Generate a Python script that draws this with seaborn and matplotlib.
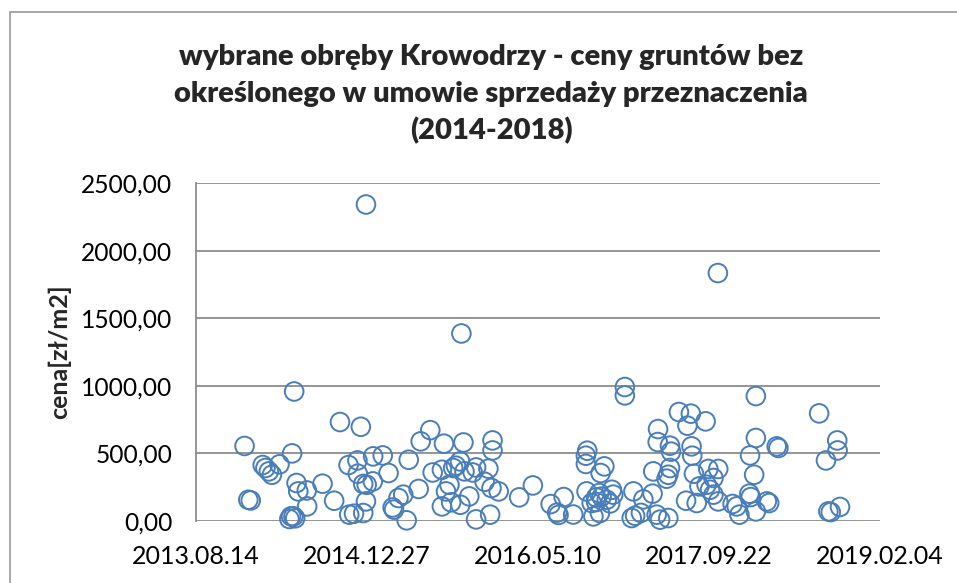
import matplotlib
matplotlib.use("Agg")
import matplotlib.pyplot as plt
import matplotlib.dates as mdates
import matplotlib.patches as mpatches
from matplotlib.ticker import FuncFormatter, FixedLocator
import seaborn as sns
import pandas as pd
import numpy as np

# ---- data: transaction date (Excel serial day numbers) and price [zł/m2] ----
sale_serial = [
    41642, 41653, 41660, 41695, 41703, 41713, 41722, 41744, 41773, 41778,
    41785, 41790, 41781, 41787, 41794, 41799, 41824, 41825, 41870, 41904,
    41921, 41946, 41948, 41962, 41972, 41973, 41982, 41989, 41989, 41997,
    41999, 41997, 42017, 42018, 42046, 42063, 42079, 42075, 42092, 42106,
    42116, 42122, 42151, 42157, 42185, 42192, 42219, 42219, 42225, 42231,
    42241, 42246, 42252, 42260, 42272, 42273, 42276, 42282, 42285, 42299,
    42309, 42319, 42319, 42344, 42355, 42360, 42364, 42367, 42367, 42385,
    42445, 42485, 42537, 42556, 42560, 42575, 42640, 42640, 42644, 42642,
    42657, 42662, 42679, 42681, 42683, 42694, 42701, 42716, 42720, 42670,
    42754, 42754, 42774, 42779, 42784, 42801, 42808, 42835, 42837, 42847,
    42851, 42850, 42857, 42876, 42881, 42881, 42886, 42886, 42889, 42912,
    42933, 42937, 42947, 42949, 42951, 42956, 42964, 42972, 42990, 42993,
    42998, 43003, 43013, 43013, 43026, 43027, 43027, 43069, 43081, 43089,
    43118, 43122, 43120, 43132, 43137, 43137, 43137, 43169, 43176, 43198,
    43203, 43322, 43342, 43375, 43376, 43349, 43356, 43383,
    42603, 42670, 42686, 42711,
]
price = [
    555, 157, 152, 414, 392, 367, 342, 419, 15, 35,
    34, 20, 500, 958, 281, 219, 226, 108, 276, 150,
    732, 414, 47, 54, 448, 350, 697, 274, 59, 145,
    268, 2341, 293, 478, 485, 355, 84, 100, 170, 195,
    5, 453, 237, 589, 672, 359, 379, 108, 572, 219,
    268, 138, 392, 409, 441, 120, 1387, 581, 367, 182,
    359, 396, 12, 290, 387, 47, 244, 596, 522, 219,
    175, 263, 125, 62, 45, 177, 422, 483, 520, 219,
    133, 34, 207, 59, 355, 404, 157, 231, 195, 175,
    991, 929, 22, 219, 39, 60, 160, 202, 367, 47,
    680, 584, 10, 313, 342, 22, 392, 557, 513, 806,
    150, 705, 794, 552, 483, 350, 133, 256, 737, 268,
    385, 231, 318, 195, 1834, 385, 145, 126, 108, 47,
    202, 177, 485, 342, 924, 614, 71, 145, 133, 552,
    540, 796, 448, 596, 522, 71, 66, 104,
    48, 140, 180, 130,
]

x_start, x_end = 41500, 43500          # axis limits (Excel serials)
y_ticks = [0, 500, 1000, 1500, 2000, 2500]
title = ("wybrane obręby Krowodrzy - ceny gruntów bez\n"
         "określonego w umowie sprzedaży przeznaczenia\n(2014-2018)")
y_label = "cena[zł/m2]"

origin = "1899-12-30"
df = pd.DataFrame({
    "data": pd.to_datetime(sale_serial, unit="D", origin=origin),
    "cena": price,
})

sns.set_theme(style="white")
fam = ["Lato", "DejaVu Sans"]
plt.rcParams["font.family"] = fam

fig = plt.figure(figsize=(9.57, 5.83), dpi=100)
ax = fig.add_axes([196 / 957, 1 - 521 / 583, (880 - 196) / 957, (521 - 183) / 583])

sns.scatterplot(data=df, x="data", y="cena", ax=ax, s=180,
                facecolors="none", edgecolor="#4A7EBB", linewidth=1.4,
                clip_on=False, zorder=3)

xmin = pd.to_datetime(x_start, unit="D", origin=origin)
xmax = pd.to_datetime(x_end, unit="D", origin=origin)
ax.set_xlim(xmin, xmax)
ax.set_ylim(0, 2500)

x_ticks = [pd.to_datetime(v, unit="D", origin=origin) for v in range(x_start, x_end + 1, 500)]
ax.xaxis.set_major_locator(FixedLocator(mdates.date2num(x_ticks)))
ax.xaxis.set_major_formatter(mdates.DateFormatter("%Y.%m.%d"))
ax.yaxis.set_major_locator(FixedLocator(y_ticks))
ax.yaxis.set_major_formatter(FuncFormatter(lambda v, p: f"{v:.2f}".replace(".", ",")))

ax.grid(axis="y", color="#8C8C8C", linewidth=1.3)
ax.grid(axis="x", visible=False)
for side in ["top", "right", "bottom"]:
    ax.spines[side].set_visible(False)
ax.spines["left"].set_color("#8C8C8C")
ax.spines["left"].set_linewidth(1.3)
ax.set_axisbelow(True)
ax.tick_params(axis="both", length=0, colors="black")
ax.tick_params(axis="y", pad=17, labelsize=17.7)
ax.tick_params(axis="x", pad=17, labelsize=18)
ax.set_xlabel("")
ax.set_ylabel(y_label, fontsize=18, fontweight="bold", labelpad=7)
for lbl in ax.get_xticklabels() + ax.get_yticklabels():
    lbl.set_fontfamily(fam)

fig.text(491 / 957, 1 - 94.5 / 583, title, ha="center", va="center",
         fontsize=21, fontweight="heavy", linespacing=1.48, family=fam)

border = mpatches.Rectangle((10 / 957, -0.2), 1.2, 1 - 12 / 583 + 0.2,
                            transform=fig.transFigure, fill=False,
                            edgecolor="#A0A0A0", linewidth=1.3)
fig.patches.append(border)

fig.savefig("out.png", dpi=100)
